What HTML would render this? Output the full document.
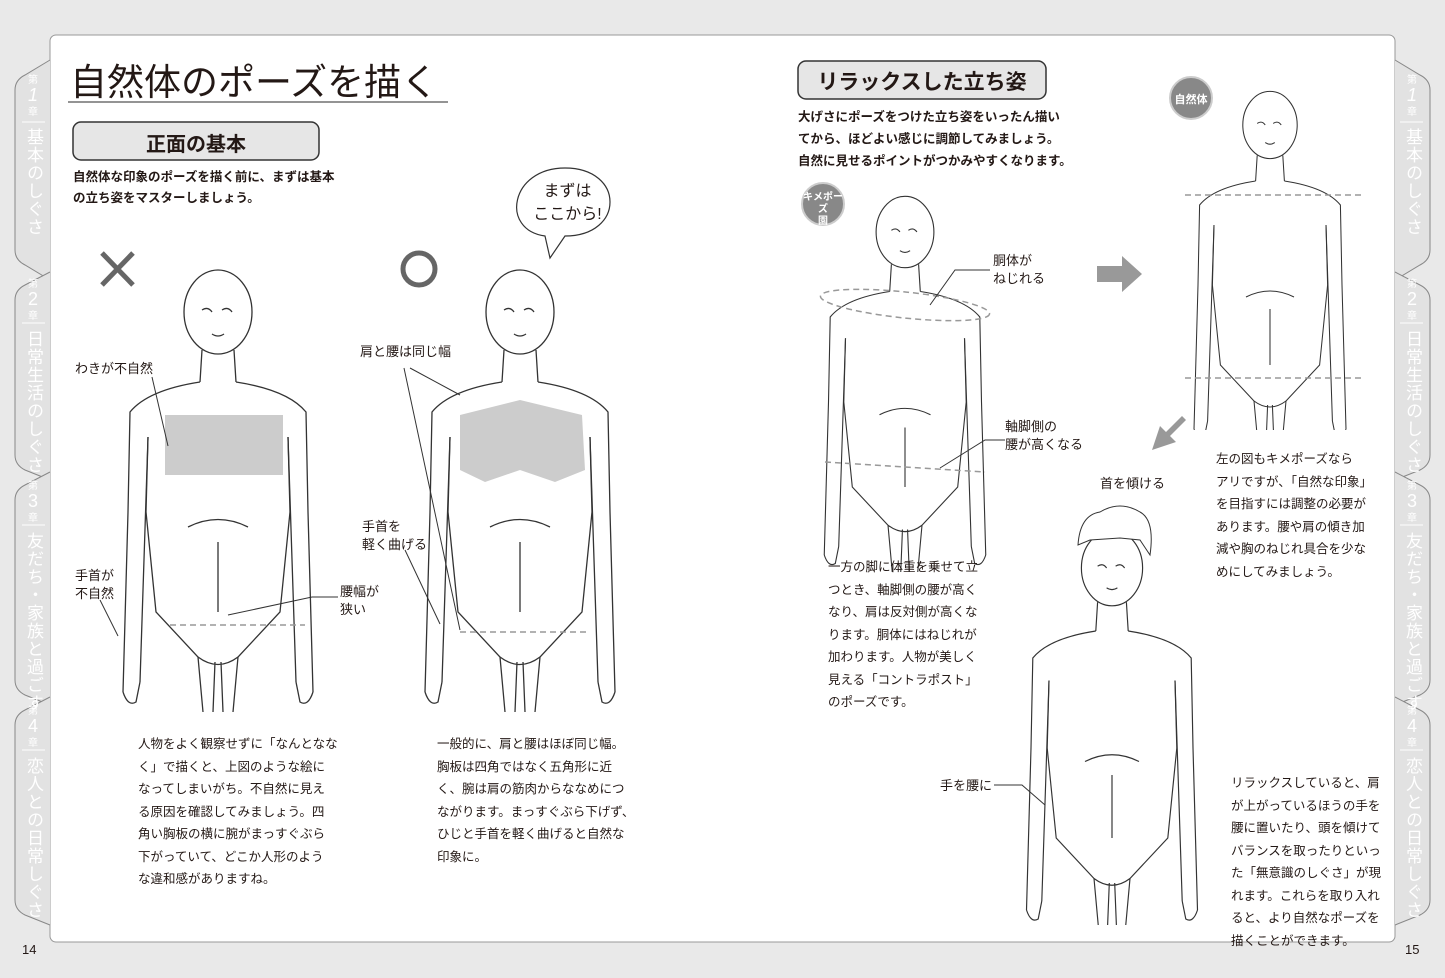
<!DOCTYPE html>
<html><head><meta charset="utf-8">
<style>
body{margin:0;width:1445px;height:978px;background:#e9e9e9;position:relative;overflow:hidden;font-family:"Liberation Sans","Noto Sans CJK JP",sans-serif;color:#231815}
.t{position:absolute;font-size:12.5px;line-height:21px;white-space:nowrap}
.b{font-weight:bold}
.lbl{position:absolute;font-size:13px;line-height:18px;white-space:nowrap}
.vt{position:absolute;writing-mode:vertical-rl;color:#fff;font-size:17px;letter-spacing:1px}
.num{position:absolute;color:#fff;font-size:10px;text-align:center;width:30px;line-height:14px}
</style></head><body>
<svg width="1445" height="978" style="position:absolute;left:0;top:0">
<defs>
<g id="fig" fill="none" stroke="#333" stroke-width="1.3">
<ellipse cx="0" cy="0" rx="34" ry="42" fill="#fff"/>
<path d="M-16 38 L-18 70 M16 38 L18 70"/>
<path d="M-18 70 Q-70 78 -88 100 L-90 200 L-95 380 M18 70 Q70 78 88 100 L90 200 L95 380"/>
<path d="M-70 125 L-72 200 L-62 300 L-20 345 L-15 400 M70 125 L72 200 L62 300 L20 345 L15 400"/>
<path d="M-70 125 L-78 370 M70 125 L78 370"/>
<path d="M-95 380 Q-90 395 -82 390 L-78 370 M95 380 Q90 395 82 390 L78 370"/>
<path d="M-20 345 Q0 360 20 345 M-3 350 L-5 400 M3 350 L5 400"/>
<path d="M-30 215 Q0 200 30 215 M0 230 L0 300"/>
<path d="M-10 -2 q6 -4 10 2 M10 -2 q6 -4 10 2" transform="translate(-6,0)"/>
<path d="M-6 22 q6 4 12 0"/>
</g>
</defs>
<rect x="50" y="35" width="1345" height="907" rx="6" fill="#fff" stroke="#999"/>
<g fill="#e2e2e2" stroke="#888" stroke-width="1">
<path d="M50 60 L25 75 Q15 80 15 90 L15 250 Q15 260 25 265 L50 280"/>
<path d="M50 272 L25 285 Q15 290 15 300 L15 455 Q15 465 25 470 L50 480"/>
<path d="M50 472 L25 485 Q15 490 15 500 L15 680 Q15 690 25 695 L50 705"/>
<path d="M50 697 L25 710 Q15 715 15 725 L15 900 Q15 910 25 915 L50 925"/>
<path d="M1395 60 L1420 75 Q1430 80 1430 90 L1430 250 Q1430 260 1420 265 L1395 280"/>
<path d="M1395 272 L1420 285 Q1430 290 1430 300 L1430 455 Q1430 465 1420 470 L1395 480"/>
<path d="M1395 472 L1420 485 Q1430 490 1430 500 L1430 680 Q1430 690 1420 695 L1395 705"/>
<path d="M1395 697 L1420 710 Q1430 715 1430 725 L1430 900 Q1430 910 1420 915 L1395 925"/>
</g>
<g stroke="#fff" stroke-width="1"><line x1="22" y1="122" x2="45" y2="122"/><line x1="22" y1="323" x2="45" y2="323"/><line x1="22" y1="525" x2="45" y2="525"/><line x1="22" y1="750" x2="45" y2="750"/>
<line x1="1400" y1="122" x2="1423" y2="122"/><line x1="1400" y1="323" x2="1423" y2="323"/><line x1="1400" y1="525" x2="1423" y2="525"/><line x1="1400" y1="750" x2="1423" y2="750"/></g>
<line x1="68" y1="102" x2="448" y2="102" stroke="#555" stroke-width="1.2"/>
<rect x="73" y="122" width="246" height="38" rx="8" fill="#e6e6e6" stroke="#333" stroke-width="1.5"/>
<rect x="798" y="61" width="248" height="38" rx="8" fill="#e6e6e6" stroke="#333" stroke-width="1.5"/>
<path d="M102 253 L133 285 M133 253 L102 285" stroke="#666" stroke-width="5"/>
<circle cx="419" cy="269" r="16" fill="none" stroke="#666" stroke-width="5"/>
<path d="M565 168 C510 168 500 230 545 236 L550 258 L565 236 C625 236 625 168 565 168 Z" fill="#fff" stroke="#333" stroke-width="1.2"/>
<rect x="165" y="415" width="118" height="60" fill="#ccc"/>
<use href="#fig" transform="translate(218,312)"/>
<path d="M460 415 L520 400 L582 415 L585 470 L555 482 L520 470 L485 482 L460 470 Z" fill="#ccc"/>
<use href="#fig" transform="translate(520,312)"/>
<use href="#fig" transform="translate(905,232) scale(0.85)"/>
<use href="#fig" transform="translate(1270,125) scale(0.8)"/>
<rect x="1170" y="430" width="200" height="60" fill="#fff"/>
<use href="#fig" transform="translate(1112,568) scale(0.9)"/>
<rect x="1000" y="925" width="260" height="16" fill="#fff"/>
<path d="M1078 545 Q1080 515 1100 512 Q1120 500 1140 512 Q1155 520 1150 555 L1140 540 L1120 538 L1090 540 Z" fill="#fff" stroke="#333"/>
<g stroke="#999" stroke-width="1.5" stroke-dasharray="6 4" fill="none">
<line x1="1185" y1="195" x2="1365" y2="195"/><line x1="1185" y1="378" x2="1365" y2="378"/>
<ellipse cx="905" cy="305" rx="85" ry="13" transform="rotate(6 905 305)"/>
<line x1="825" y1="462" x2="985" y2="472"/>
<line x1="170" y1="625" x2="305" y2="625"/><line x1="460" y1="632" x2="590" y2="632"/>
</g>
<path d="M1097 266 L1122 266 L1122 256 L1142 274 L1122 292 L1122 282 L1097 282 Z" fill="#999"/>
<path d="M1186 420 L1170 436 L1176 442 L1152 450 L1160 426 L1166 432 L1182 416 Z" fill="#999"/>
<circle cx="823" cy="204" r="21" fill="#888" stroke="#ccc" stroke-width="2"/>
<circle cx="1191" cy="98" r="21" fill="#888" stroke="#ccc" stroke-width="2"/>
<g stroke="#333" stroke-width="1" fill="none">
<path d="M152 377 L168 446"/><path d="M100 600 L118 636"/><path d="M338 597 L312 597 L228 615"/>
<path d="M404 368 L460 630 M410 368 L460 395"/><path d="M405 550 L440 624"/>
<path d="M990 270 L955 270 L930 305"/><path d="M1005 440 L985 440 L940 468"/>
<path d="M994 785 L1022 785 L1045 805"/>
</g>
</svg>
<div style="position:absolute;left:70px;top:56px;font-size:37px;line-height:46px;font-family:'Noto Sans CJK JP',sans-serif;white-space:nowrap">自然体のポーズを描く</div>
<div style="position:absolute;left:73px;top:128px;width:246px;text-align:center;font-size:20px;font-weight:bold">正面の基本</div>
<div style="position:absolute;left:798px;top:66px;width:248px;text-align:center;font-size:21px;font-weight:bold">リラックスした立ち姿</div>
<div class="t b" style="left:73px;top:167px">自然体な印象のポーズを描く前に、まずは基本<br>の立ち姿をマスターしましょう。</div>
<div class="t b" style="left:798px;top:106px;line-height:22px">大げさにポーズをつけた立ち姿をいったん描い<br>てから、ほどよい感じに調節してみましょう。<br>自然に見せるポイントがつかみやすくなります。</div>
<div style="position:absolute;left:530px;top:180px;width:75px;text-align:center;font-size:16px;line-height:23px">まずは<br>ここから!</div>
<div class="lbl" style="left:75px;top:360px">わきが不自然</div>
<div class="lbl" style="left:75px;top:567px">手首が<br>不自然</div>
<div class="lbl" style="left:340px;top:583px">腰幅が<br>狭い</div>
<div class="lbl" style="left:360px;top:343px">肩と腰は同じ幅</div>
<div class="lbl" style="left:362px;top:518px">手首を<br>軽く曲げる</div>
<div class="lbl" style="left:993px;top:252px">胴体が<br>ねじれる</div>
<div class="lbl" style="left:1005px;top:418px">軸脚側の<br>腰が高くなる</div>
<div class="lbl" style="left:1100px;top:475px">首を傾ける</div>
<div class="lbl" style="left:940px;top:777px">手を腰に</div>
<div style="position:absolute;left:802px;top:192px;width:42px;text-align:center;color:#fff;font-size:10px;line-height:12px;font-weight:bold">キメポーズ<br>園</div>
<div style="position:absolute;left:1170px;top:91px;width:42px;text-align:center;color:#fff;font-size:11px;font-weight:bold">自然体</div>
<div class="t" style="left:138px;top:733px;line-height:22.5px">人物をよく観察せずに「なんとなな<br>く」で描くと、上図のような絵に<br>なってしまいがち。不自然に見え<br>る原因を確認してみましょう。四<br>角い胸板の横に腕がまっすぐぶら<br>下がっていて、どこか人形のよう<br>な違和感がありますね。</div>
<div class="t" style="left:437px;top:733px;line-height:22.5px">一般的に、肩と腰はほぼ同じ幅。<br>胸板は四角ではなく五角形に近<br>く、腕は肩の筋肉からななめにつ<br>ながります。まっすぐぶら下げず、<br>ひじと手首を軽く曲げると自然な<br>印象に。</div>
<div class="t" style="left:828px;top:556px;line-height:22.5px">一方の脚に体重を乗せて立<br>つとき、軸脚側の腰が高く<br>なり、肩は反対側が高くな<br>ります。胴体にはねじれが<br>加わります。人物が美しく<br>見える「コントラポスト」<br>のポーズです。</div>
<div class="t" style="left:1216px;top:448px;line-height:22.5px">左の図もキメポーズなら<br>アリですが、「自然な印象」<br>を目指すには調整の必要が<br>あります。腰や肩の傾き加<br>減や胸のねじれ具合を少な<br>めにしてみましょう。</div>
<div class="t" style="left:1231px;top:772px;line-height:22.5px">リラックスしていると、肩<br>が上がっているほうの手を<br>腰に置いたり、頭を傾けて<br>バランスを取ったりといっ<br>た「無意識のしぐさ」が現<br>れます。これらを取り入れ<br>ると、より自然なポーズを<br>描くことができます。</div>
<div style="position:absolute;left:22px;top:942px;font-size:13px">14</div>
<div style="position:absolute;left:1405px;top:942px;font-size:13px">15</div>
<div class="num" style="left:18px;top:74px">第<br><span style="font-size:18px;font-style:italic">1</span><br>章</div>
<div class="vt" style="left:21px;top:128px">基本のしぐさ</div>
<div class="num" style="left:18px;top:278px">第<br><span style="font-size:18px">2</span><br>章</div>
<div class="vt" style="left:21px;top:330px">日常生活のしぐさ</div>
<div class="num" style="left:18px;top:480px">第<br><span style="font-size:18px">3</span><br>章</div>
<div class="vt" style="left:21px;top:532px">友だち・家族と過ごす</div>
<div class="num" style="left:18px;top:705px">第<br><span style="font-size:18px">4</span><br>章</div>
<div class="vt" style="left:21px;top:757px">恋人との日常しぐさ</div>
<div class="num" style="left:1397px;top:74px">第<br><span style="font-size:18px;font-style:italic">1</span><br>章</div>
<div class="vt" style="left:1400px;top:128px">基本のしぐさ</div>
<div class="num" style="left:1397px;top:278px">第<br><span style="font-size:18px">2</span><br>章</div>
<div class="vt" style="left:1400px;top:330px">日常生活のしぐさ</div>
<div class="num" style="left:1397px;top:480px">第<br><span style="font-size:18px">3</span><br>章</div>
<div class="vt" style="left:1400px;top:532px">友だち・家族と過ごす</div>
<div class="num" style="left:1397px;top:705px">第<br><span style="font-size:18px">4</span><br>章</div>
<div class="vt" style="left:1400px;top:757px">恋人との日常しぐさ</div>
</body></html>
